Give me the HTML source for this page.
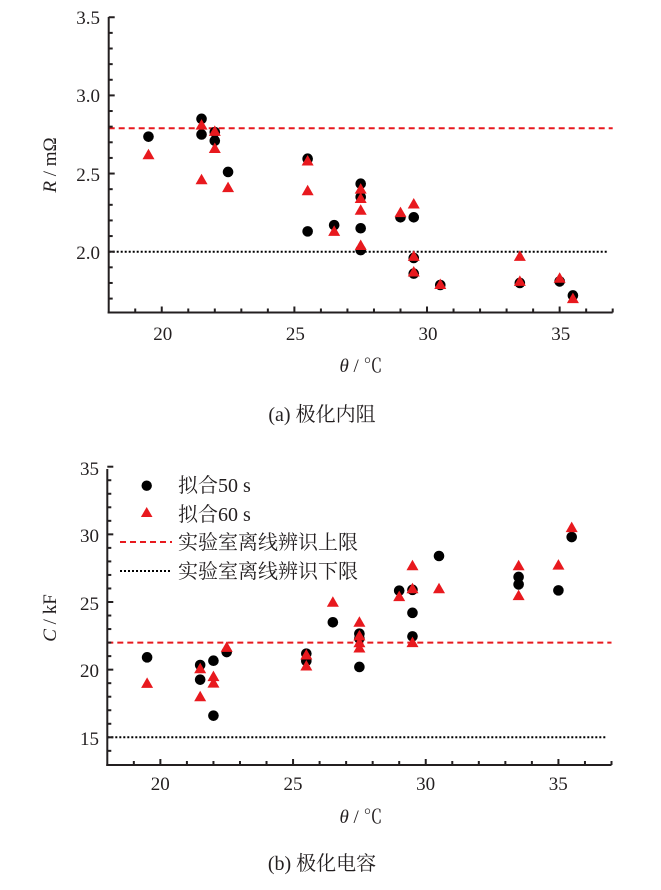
<!DOCTYPE html>
<html><head><meta charset="utf-8"><style>
html,body{margin:0;padding:0;background:#fff}
svg{display:block}
svg text{font-family:"Liberation Serif","Noto Serif CJK SC",serif !important;fill:#231f20}
</style></head><body>
<svg id="s" width="661" height="890" viewBox="0 0 661 890" xmlns="http://www.w3.org/2000/svg" font-family="'Liberation Serif','Noto Serif CJK SC',serif">
<g id="g1"></g><g id="g2"></g>
<g font-size="19" text-anchor="end">
<text x="100" y="24">3.5</text><text x="100" y="102">3.0</text><text x="100" y="181">2.5</text><text x="100" y="259">2.0</text>
</g>
<g font-size="19" text-anchor="middle">
<text x="162.7" y="340">20</text><text x="295.4" y="340">25</text><text x="428" y="340">30</text><text x="560.7" y="340">35</text>
</g>
<text x="361" y="372" font-size="19" text-anchor="middle"><tspan font-style="italic">θ</tspan> / ℃</text>
<text transform="translate(56,165) rotate(-90)" font-size="19" text-anchor="middle"><tspan font-style="italic">R</tspan> / mΩ</text>
<text x="322" y="421" font-size="20" text-anchor="middle">(a)  极化内阻</text>
<g font-size="19" text-anchor="end">
<text x="99" y="475">35</text><text x="99" y="542">30</text><text x="99" y="610">25</text><text x="99" y="677">20</text><text x="99" y="745">15</text>
</g>
<g font-size="19" text-anchor="middle">
<text x="160.3" y="790">20</text><text x="293" y="790">25</text><text x="425.6" y="790">30</text><text x="558.3" y="790">35</text>
</g>
<text x="361" y="823" font-size="19" text-anchor="middle"><tspan font-style="italic">θ</tspan> / ℃</text>
<text transform="translate(56,618) rotate(-90)" font-size="19" text-anchor="middle"><tspan font-style="italic">C</tspan> / kF</text>
<text x="322" y="870" font-size="20" text-anchor="middle">(b)  极化电容</text>
<circle cx="146.7" cy="485.7" r="5.2" fill="#000"/>
<polygon points="146.7,507 152.5,517 140.9,517" fill="#e8191e"/>
<line x1="120" y1="542" x2="172" y2="542" stroke="#e8191e" stroke-width="2" stroke-dasharray="6,4"/>
<line x1="120" y1="571" x2="172" y2="571" stroke="#000" stroke-width="2" stroke-dasharray="2,2"/>
<g font-size="20">
<text x="178" y="492">拟合50 s</text>
<text x="178" y="521">拟合60 s</text>
<text x="178" y="549">实验室离线辨识上限</text>
<text x="178" y="578">实验室离线辨识下限</text>
</g>
</svg>
<script>
var NS="http://www.w3.org/2000/svg";
function el(p,t,a){var e=document.createElementNS(NS,t);for(var k in a)e.setAttribute(k,a[k]);p.appendChild(e);return e;}
function chart(g,o){
 var X=function(v){return o.x0+(v-18)*(o.x1-o.x0)/19;};
 var Y=function(v){return o.yref-(v-o.vref)*o.k;};
 el(g,'line',{x1:o.x0,y1:Y(o.red),x2:X(37),y2:Y(o.red),stroke:'#e8191e','stroke-width':2,'stroke-dasharray':'6,4'});
 el(g,'line',{x1:o.x0,y1:Y(o.blk),x2:X(36.8),y2:Y(o.blk),stroke:'#000','stroke-width':2,'stroke-dasharray':'2,2'});
 el(g,'line',{x1:o.x0,y1:o.top,x2:o.x0,y2:o.bot+1,stroke:'#231f20','stroke-width':2});
 el(g,'line',{x1:o.x0-1,y1:o.bot,x2:o.x1,y2:o.bot,stroke:'#231f20','stroke-width':2});
 for(var v=19;v<=37;v++){var x=X(v);el(g,'line',{x1:x,y1:o.bot,x2:x,y2:o.bot-(v%5==0?6:4),stroke:'#231f20','stroke-width':2});}
 for(var i=0;i<o.nt.length;i++){var y=Y(o.nt[i]);el(g,'line',{x1:o.x0,y1:y,x2:o.x0+(o.maj(o.nt[i])?6:4),y2:y,stroke:'#231f20','stroke-width':2});}
 o.c.forEach(function(p){el(g,'circle',{cx:X(p[0]),cy:Y(p[1]),r:5.3,fill:'#000'});});
 o.t.forEach(function(p){var x=X(p[0]),y=Y(p[1]);el(g,'polygon',{points:(x)+','+(y-6)+' '+(x+6)+','+(y+4.5)+' '+(x-6)+','+(y+4.5),fill:'#e8191e'});});
}
var nt1=[];for(var v=1.7;v<=3.501;v+=0.1)nt1.push(Math.round(v*10)/10);
chart(document.getElementById('g1'),{x0:108.7,x1:612.7,top:17,bot:312.5,yref:251.7,vref:2,k:156.3,red:2.79,blk:2.0,nt:nt1,maj:function(v){return Math.abs(v*2-Math.round(v*2))<1e-6;},
c:[[19.5,2.736],[21.5,2.85],[21.5,2.75],[22,2.765],[22,2.71],[22.5,2.51],[25.5,2.595],[25.5,2.13],[26.5,2.17],[27.5,2.435],[27.5,2.35],[27.5,2.15],[27.5,2.01],[29,2.22],[29.5,2.22],[29.5,1.96],[29.5,1.86],[30.5,1.787],[33.5,1.80],[35,1.81],[35.5,1.72]],
t:[[19.5,2.62],[21.5,2.81],[21.5,2.46],[22,2.77],[22,2.66],[22.5,2.41],[25.5,2.58],[25.5,2.39],[26.5,2.13],[27.5,2.40],[27.5,2.34],[27.5,2.265],[27.5,2.04],[29,2.25],[29.5,2.305],[29.5,1.97],[29.5,1.87],[30.5,1.79],[33.5,1.97],[33.5,1.81],[35,1.83],[35.5,1.70]]});
var nt2=[];for(var v=14;v<=35;v++)nt2.push(v);
chart(document.getElementById('g2'),{x0:107.3,x1:611.5,top:469,bot:765,yref:737.3,vref:15,k:13.53,red:22,blk:15,nt:nt2,maj:function(v){return v%5==0;},
c:[[19.5,20.91],[21.5,20.34],[21.5,19.26],[22,20.66],[22,16.6],[22.5,21.3],[25.5,21.18],[25.5,20.64],[26.5,23.5],[27.5,22.66],[27.5,22.3],[27.5,20.2],[29,25.84],[29.5,25.9],[29.5,24.2],[29.5,22.46],[30.5,28.4],[33.5,26.85],[33.5,26.3],[35,25.86],[35.5,29.8]],
t:[[19.5,18.99],[21.5,20.07],[21.5,18.0],[22,19.48],[22,19.0],[22.5,21.65],[25.5,21.08],[25.5,20.27],[26.5,24.98],[27.5,23.5],[27.5,22.5],[27.5,21.99],[27.5,21.6],[29,25.4],[29.5,27.68],[29.5,25.98],[29.5,22.0],[30.5,25.98],[33.5,27.68],[33.5,25.47],[35,27.73],[35.5,30.5]]});
</script>
</body></html>
